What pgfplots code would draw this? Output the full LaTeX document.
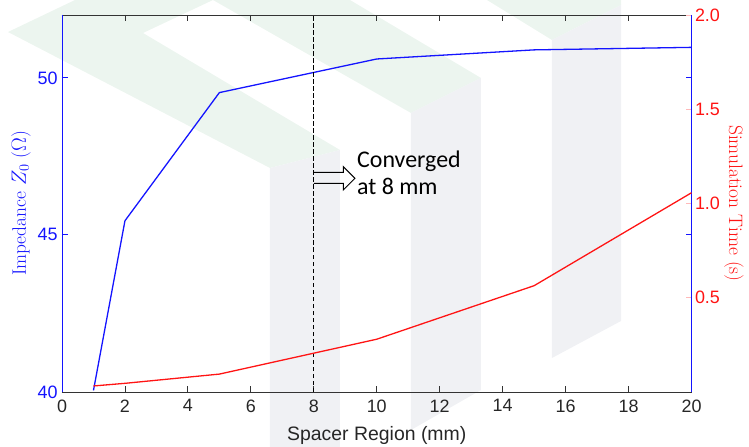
\documentclass[border=0pt]{standalone}
\usepackage{fontspec}
\usepackage{pgfplots}
\pgfplotsset{compat=1.18}
\newfontfamily\arial{Liberation Sans}
\newfontfamily\calibri{Carlito}
\definecolor{wmgreen}{RGB}{236,245,239}
\definecolor{wmgrey}{RGB}{240,241,244}
\definecolor{pinktick}{RGB}{255,185,185}
\definecolor{zblue}{RGB}{20,20,255}
\definecolor{zred}{RGB}{255,20,20}
\begin{document}
\begin{tikzpicture}
\useasboundingbox (-62bp,-55bp) rectangle (687bp,392bp);
% faint watermark in the background
\begin{scope}[shift={(-62bp,392bp)}, x=1bp, y=-1bp]
  \fill[wmgreen] (8,32) -- (75,0) -- (213,0) -- (143,33) -- (340,150) -- (270,168) -- cycle;
  \fill[wmgrey] (270,168) -- (340,150) -- (340,447) -- (270,447) -- cycle;
  \fill[wmgreen] (213,0) -- (350,0) -- (481,78) -- (411,113) -- cycle;
  \fill[wmgrey] (411,113) -- (481,78) -- (481,390) -- (411,430) -- cycle;
  \fill[wmgreen] (487,0) -- (621,0) -- (621,5) -- (552,40) -- cycle;
  \fill[wmgrey] (552,40) -- (621,5) -- (621,321) -- (552,358) -- cycle;
\end{scope}
\begin{axis}[
  scale only axis, width=629.5bp, height=377bp,
  xmin=0, xmax=20, ymin=40, ymax=52,
  separate axis lines,
  every outer x axis line/.append style={black!80, line width=0.9pt},
  every outer y axis line/.append style={zblue, line width=0.9pt},
  xtick={0,2,...,20}, ytick={40,45,50},
  tick align=inside,
  major tick length=6bp,
  xtick style={black!80, line width=0.9pt},
  ytick style={zblue, line width=0.9pt},
  /pgf/number format/assume math mode=true,
  tick label style={font=\arial\fontsize{18}{21}\selectfont},
  xticklabel style={black!85, yshift=-4bp},
  yticklabel style={zblue, xshift=-1bp},
  xlabel={Spacer Region (mm)},
  xlabel style={font=\arial\fontsize{19.5}{22}\selectfont, text=black!85,
    at={(axis description cs:0.5,0)}, anchor=base, yshift=-48bp},
  ylabel={Impedance $Z_0$ ($\Omega$)},
  ylabel style={text=zblue, font=\fontsize{19.5}{23}\selectfont,
    at={(axis description cs:-0.0651,0.5)}, anchor=center},
]
\addplot[zblue, line width=1.3pt] coordinates {(1,40.05) (2,45.45) (5,49.53) (10,50.6) (15,50.89) (20,50.97)};
\draw[black, line width=1.4pt, dash pattern=on 4.5bp off 2.5bp] (axis cs:8,40) -- (axis cs:8,52);
\end{axis}
\begin{axis}[
  scale only axis, width=629.5bp, height=377bp,
  xmin=0, xmax=20, ymin=0, ymax=2,
  axis x line=none, axis y line*=right,
  every outer y axis line/.append style={zblue, line width=0.9pt},
  y axis line style={zblue, line width=0.9pt},
  ytick={0.5,1,1.5,2}, yticklabels={0.5,1.0,1.5,2.0},
  tick align=inside, major tick length=6bp,
  ytick style={pinktick, line width=0.9pt},
  yticklabel style={text=zred, font=\arial\fontsize{18}{21}\selectfont, xshift=0bp},
  ylabel={Simulation Time (s)},
  ylabel style={text=zred, font=\fontsize{19.5}{23}\selectfont, rotate=180,
    at={(axis description cs:1.0675,0.5)}, anchor=center},
]
\addplot[zred, line width=1.3pt] coordinates {(1,0.032) (2,0.046) (5,0.095) (10,0.28) (15,0.564) (20,1.057)};
\end{axis}
\begin{scope}[shift={(-62bp,392bp)}, x=1bp, y=-1bp]
  \draw[black, line width=1pt] (314,172.3) -- (343.3,172.3) -- (343.3,166.7) -- (355,178.3) -- (343.3,190) -- (343.3,183.5) -- (314,183.5);
  \node[anchor=base west, inner sep=0pt, font=\calibri\fontsize{24}{28}\selectfont] at (357,168) {Converged};
  \node[anchor=base west, inner sep=0pt, font=\calibri\fontsize{24}{28}\selectfont] at (357,195) {at 8 mm};
\end{scope}
\end{tikzpicture}
\end{document}
